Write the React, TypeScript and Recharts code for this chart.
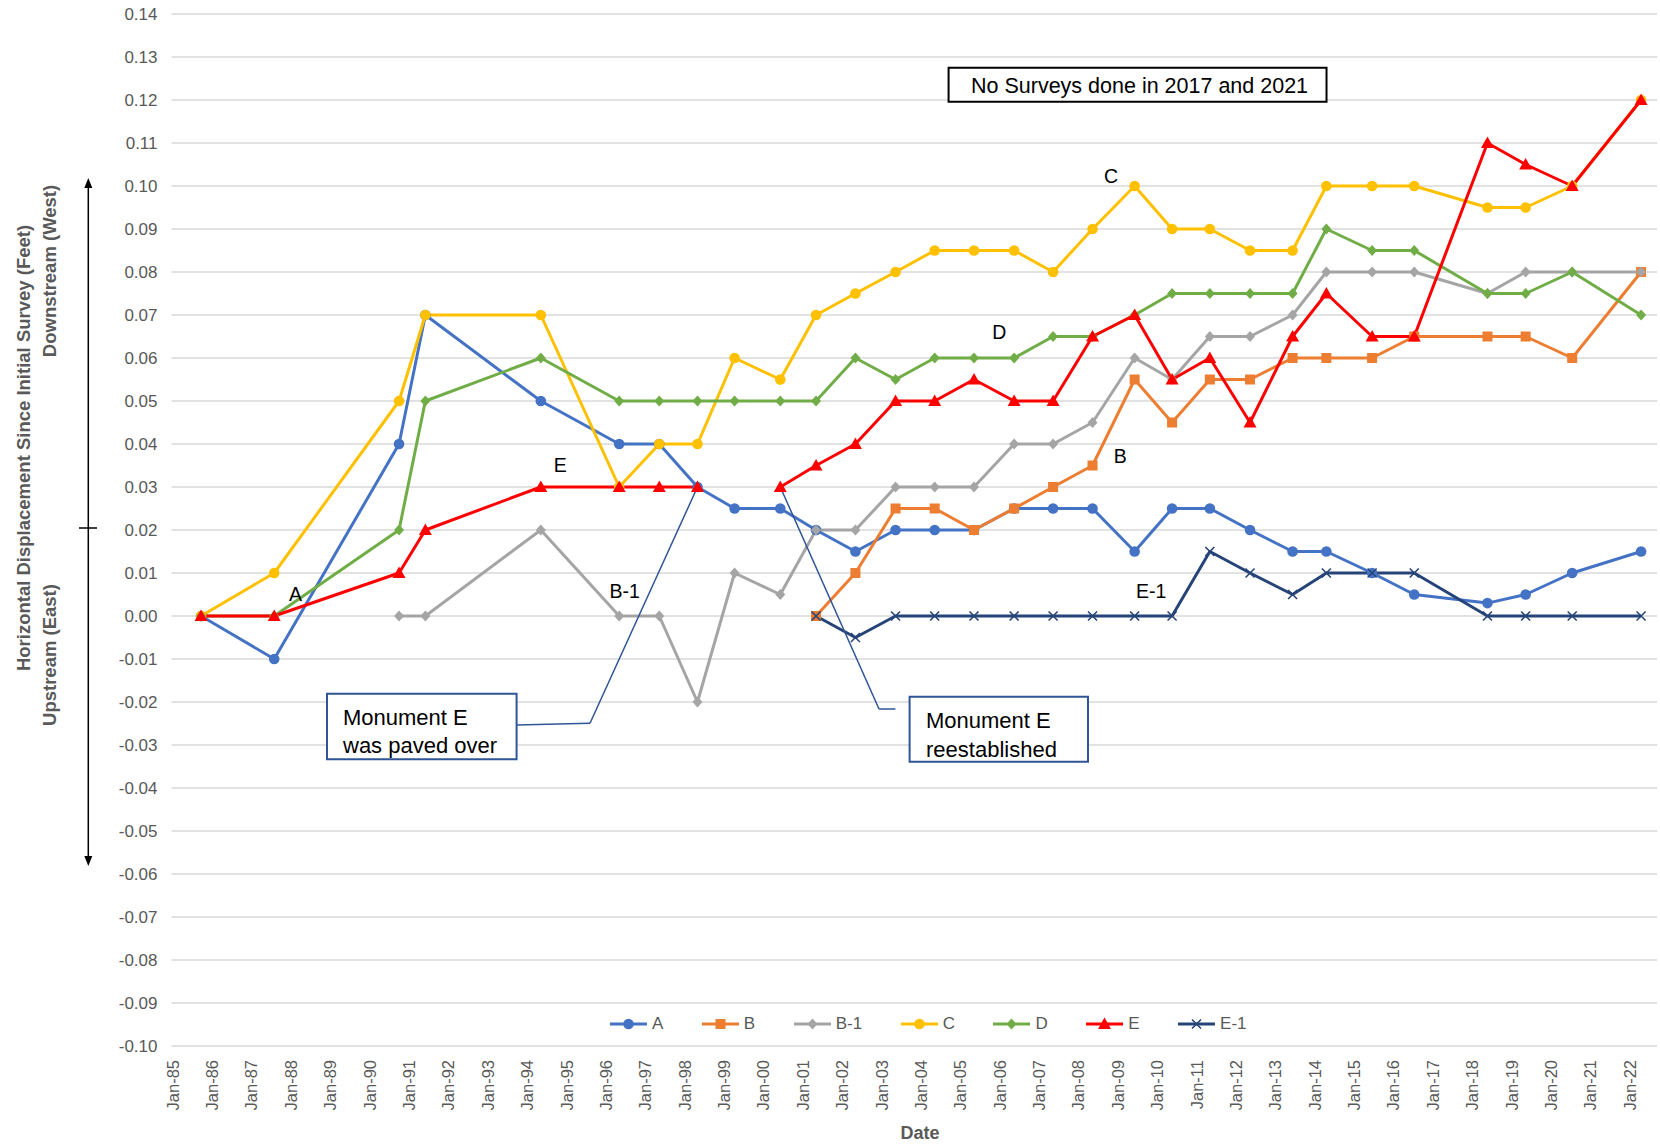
import React from 'react'
import {
  LineChart,
  Line,
  XAxis,
  YAxis,
  CartesianGrid,
  Legend,
  ReferenceArea,
  ReferenceLine,
  ReferenceDot,
} from 'recharts'

// survey dates (one per survey, none in 2017 and 2021)
const surveyDates = [
  '1985-10-02', '1987-08-11', '1990-10-12', '1991-06-13', '1994-05-19',
  '1996-05-15', '1997-05-22', '1998-05-11', '1999-04-20', '2000-06-17',
  '2001-05-15', '2002-05-15', '2003-05-22', '2004-05-19', '2005-05-19',
  '2006-05-26', '2007-05-22', '2008-05-22', '2009-06-17', '2010-05-30',
  '2011-05-15', '2012-05-22', '2013-06-21', '2014-04-30', '2015-06-28',
  '2016-07-23', '2018-06-02', '2019-05-22', '2020-07-27', '2022-04-27',
]

// horizontal displacement in feet, null = no reading
const monA = [0, -0.01, 0.04, 0.07, 0.05, 0.04, 0.04, 0.03, 0.025, 0.025, 0.02, 0.015, 0.02, 0.02, 0.02, 0.025, 0.025, 0.025, 0.015, 0.025, 0.025, 0.02, 0.015, 0.015, 0.01, 0.005, 0.003, 0.005, 0.01, 0.015]
const monB = [null, null, null, null, null, null, null, null, null, null, 0, 0.01, 0.025, 0.025, 0.02, 0.025, 0.03, 0.035, 0.055, 0.045, 0.055, 0.055, 0.06, 0.06, 0.06, 0.065, 0.065, 0.065, 0.06, 0.08]
const monB1 = [null, null, 0, 0, 0.02, 0, 0, -0.02, 0.01, 0.005, 0.02, 0.02, 0.03, 0.03, 0.03, 0.04, 0.04, 0.045, 0.06, 0.055, 0.065, 0.065, 0.07, 0.08, 0.08, 0.08, 0.075, 0.08, 0.08, 0.08]
const monC = [0, 0.01, 0.05, 0.07, 0.07, 0.03, 0.04, 0.04, 0.06, 0.055, 0.07, 0.075, 0.08, 0.085, 0.085, 0.085, 0.08, 0.09, 0.1, 0.09, 0.09, 0.085, 0.085, 0.1, 0.1, 0.1, 0.095, 0.095, 0.1, 0.12]
const monD = [0, 0, 0.02, 0.05, 0.06, 0.05, 0.05, 0.05, 0.05, 0.05, 0.05, 0.06, 0.055, 0.06, 0.06, 0.06, 0.065, 0.065, 0.07, 0.075, 0.075, 0.075, 0.075, 0.09, 0.085, 0.085, 0.075, 0.075, 0.08, 0.07]
const monE = [0, 0, 0.01, 0.02, 0.03, 0.03, 0.03, 0.03, null, 0.03, 0.035, 0.04, 0.05, 0.05, 0.055, 0.05, 0.05, 0.065, 0.07, 0.055, 0.06, 0.045, 0.065, 0.075, 0.065, 0.065, 0.11, 0.105, 0.1, 0.12]
const monE1 = [null, null, null, null, null, null, null, null, null, null, 0, -0.005, 0, 0, 0, 0, 0, 0, 0, 0, 0.015, 0.01, 0.005, 0.01, 0.01, 0.01, 0, 0, 0, 0]

const yearTicks = Array.from({ length: 38 }, (_, i) => 1985 + i)
const valueTicks = Array.from({ length: 25 }, (_, i) => (i - 10) / 100)

type Shape = 'circle' | 'square' | 'diamond' | 'triangle' | 'cross'

const series: { key: string; values: (number | null)[]; color: string; shape: Shape }[] = [
  { key: 'A', values: monA, color: '#4472C4', shape: 'circle' },
  { key: 'B', values: monB, color: '#ED7D31', shape: 'square' },
  { key: 'B-1', values: monB1, color: '#A5A5A5', shape: 'diamond' },
  { key: 'C', values: monC, color: '#FFC000', shape: 'circle' },
  { key: 'D', values: monD, color: '#70AD47', shape: 'diamond' },
  { key: 'E', values: monE, color: '#FF0000', shape: 'triangle' },
  { key: 'E-1', values: monE1, color: '#264478', shape: 'cross' },
]

function toYear(d: string) {
  const [y, m, day] = d.split('-').map(Number)
  const start = Date.UTC(y, 0, 1)
  return y + (Date.UTC(y, m - 1, day) - start) / (Date.UTC(y + 1, 0, 1) - start)
}

const data = surveyDates.map((d, i) => {
  const row: Record<string, number | null> = { t: toYear(d) }
  series.forEach((s) => (row[s.key] = s.values[i]))
  return row
})

// annotation placement (x in years, y in feet)
const tags = [
  { text: 'A', x: 1988.15, y: 0.0052 },
  { text: 'E', x: 1994.87, y: 0.0351 },
  { text: 'B-1', x: 1996.51, y: 0.0058 },
  { text: 'C', x: 2008.86, y: 0.1024 },
  { text: 'D', x: 2006.02, y: 0.066 },
  { text: 'B', x: 2009.09, y: 0.0373 },
  { text: 'E-1', x: 2009.88, y: 0.0059 },
]
const pavedIdx = 7
const reestIdx = 9

const FONT = '"Liberation Sans", Arial, sans-serif'
const GREY = '#595959'
const CALLOUT = '#2F5597'

function Marker({ shape, cx, cy, color }: { shape: Shape; cx: number; cy: number; color: string }) {
  switch (shape) {
    case 'circle':
      return <circle cx={cx} cy={cy} r={5.3} fill={color} />
    case 'square':
      return <rect x={cx - 5} y={cy - 5} width={10} height={10} fill={color} />
    case 'diamond':
      return <polygon points={`${cx},${cy - 5.5} ${cx + 5},${cy} ${cx},${cy + 5.5} ${cx - 5},${cy}`} fill={color} />
    case 'triangle':
      return <polygon points={`${cx},${cy - 6.5} ${cx + 6.5},${cy + 5} ${cx - 6.5},${cy + 5}`} fill={color} />
    default:
      return (
        <path
          d={`M${cx - 4.5},${cy - 4.5}L${cx + 4.5},${cy + 4.5}M${cx - 4.5},${cy + 4.5}L${cx + 4.5},${cy - 4.5}`}
          stroke={color}
          strokeWidth={1.6}
        />
      )
  }
}

const makeDot = (shape: Shape, color: string, key: string) => (p: any) => {
  if (p.cx == null || p.cy == null || p.value == null) return <g key={`${key}-${p.index}`} />
  return (
    <g key={`${key}-${p.index}`}>
      <Marker shape={shape} cx={p.cx} cy={p.cy} color={color} />
    </g>
  )
}

const DateTick = (p: any) => {
  const yr = p.payload.value as number
  return (
    <text
      x={p.x + 1.2}
      y={p.y}
      transform={`rotate(-90 ${p.x + 1.2} ${p.y})`}
      textAnchor="end"
      dominantBaseline="central"
      fill={GREY}
      fontSize={16.5}
    >
      {`Jan-${String(yr % 100).padStart(2, '0')}`}
    </text>
  )
}

const boxText = (lines: string[], size: number, dx: number, base: number, gap: number) => (p: any) => {
  const vb = p.viewBox ?? p
  return (
    <text fontSize={size} fill="#000">
      {lines.map((l, i) => (
        <tspan key={i} x={vb.x + dx} y={vb.y + base + i * gap}>
          {l}
        </tspan>
      ))}
    </text>
  )
}

const tagText = (text: string) => (p: any) => {
  const vb = p.viewBox ?? p
  return (
    <text
      x={vb.x + (vb.width || 0) / 2}
      y={vb.y + (vb.height || 0) / 2}
      textAnchor="middle"
      dominantBaseline="central"
      fontSize={19.5}
      fill="#000"
    >
      {text}
    </text>
  )
}

function LegendRow(props: any) {
  const items = (props.payload || []) as any[]
  return (
    <div style={{ display: 'flex', alignItems: 'center', height: 20, fontFamily: FONT }}>
      {items.map((it) => {
        const s = series.find((x) => x.key === it.value)!
        return (
          <div key={s.key} style={{ display: 'flex', alignItems: 'center', marginRight: 38.5 }}>
            <svg width={37} height={16}>
              <line x1={0} x2={37} y1={8} y2={8} stroke={s.color} strokeWidth={3} />
              <Marker shape={s.shape} cx={18.5} cy={8} color={s.color} />
            </svg>
            <span style={{ marginLeft: 5, fontSize: 17, color: GREY, lineHeight: '20px' }}>{s.key}</span>
          </div>
        )
      })}
    </div>
  )
}

export default function App() {
  const ePaved = { x: data[pavedIdx].t as number, y: monE[pavedIdx] as number }
  const eReest = { x: data[reestIdx].t as number, y: monE[reestIdx] as number }

  return (
    <div style={{ position: 'absolute', left: 0, top: 0, width: 1660, height: 1145, fontFamily: FONT, background: '#fff' }}>
      <LineChart width={1660} height={1145} data={data} margin={{ top: 14, right: 3, left: 0, bottom: 0 }}>
        <CartesianGrid vertical={false} stroke="#D9D9D9" strokeWidth={1.5} />
        <XAxis
          dataKey="t"
          type="number"
          domain={[1985, 2022.722]}
          ticks={yearTicks}
          interval={0}
          height={99}
          axisLine={false}
          tickLine={false}
          tickSize={0}
          tickMargin={14}
          tick={<DateTick />}
          allowDataOverflow
        />
        <YAxis
          type="number"
          domain={[-0.1, 0.14]}
          ticks={valueTicks}
          interval={0}
          width={171.5}
          axisLine={false}
          tickLine={false}
          tickSize={0}
          tickMargin={14}
          tickFormatter={(v: number) => v.toFixed(2)}
          tick={{ fill: GREY, fontSize: 17 }}
          allowDataOverflow
        />
        {series.map((s) => (
          <Line
            key={s.key}
            name={s.key}
            dataKey={s.key}
            type="linear"
            stroke={s.color}
            strokeWidth={3}
            strokeLinejoin="round"
            dot={makeDot(s.shape, s.color, s.key)}
            activeDot={false}
            connectNulls={false}
            isAnimationActive={false}
          />
        ))}
        <Legend
          layout="horizontal"
          verticalAlign="middle"
          align="center"
          content={<LegendRow />}
          wrapperStyle={{ left: 610, top: 1014, width: 720 }}
        />

        <ReferenceArea
          x1={2004.733}
          x2={2014.33}
          y1={0.1275}
          y2={0.1196}
          fill="#fff"
          fillOpacity={1}
          stroke="#000"
          strokeWidth={2}
          ifOverflow="visible"
          label={boxText(['No Surveys done in 2017 and 2021'], 21.5, 22.4, 25.5, 0)}
        />

        <ReferenceLine segment={[{ x: 1993.763, y: -0.02535 }, { x: 1995.627, y: -0.02495 }]} stroke={CALLOUT} strokeWidth={1.5} ifOverflow="visible" />
        <ReferenceLine segment={[{ x: 1995.627, y: -0.02495 }, ePaved]} stroke={CALLOUT} strokeWidth={1.5} ifOverflow="visible" />
        <ReferenceArea
          x1={1988.949}
          x2={1993.763}
          y1={-0.0181}
          y2={-0.0333}
          fill="#fff"
          fillOpacity={1}
          stroke={CALLOUT}
          strokeWidth={2}
          ifOverflow="visible"
          label={boxText(['Monument E', 'was paved over'], 22, 16, 31, 28)}
        />

        <ReferenceLine segment={[{ x: 2003.383, y: -0.02163 }, { x: 2002.966, y: -0.02163 }]} stroke={CALLOUT} strokeWidth={1.5} ifOverflow="visible" />
        <ReferenceLine segment={[{ x: 2002.966, y: -0.02163 }, eReest]} stroke={CALLOUT} strokeWidth={1.5} ifOverflow="visible" />
        <ReferenceArea
          x1={2003.743}
          x2={2008.273}
          y1={-0.0188}
          y2={-0.0339}
          fill="#fff"
          fillOpacity={1}
          stroke={CALLOUT}
          strokeWidth={2}
          ifOverflow="visible"
          label={boxText(['Monument E', 'reestablished'], 22, 16.4, 31.3, 29)}
        />

        {tags.map((t) => (
          <ReferenceDot key={t.text} x={t.x} y={t.y} r={0} fill="none" stroke="none" ifOverflow="visible" label={tagText(t.text)} />
        ))}
      </LineChart>

      <svg width={1660} height={1145} style={{ position: 'absolute', left: 0, top: 0, pointerEvents: 'none' }}>
        <g fill={GREY} fontWeight="bold" fontSize={18.5} textAnchor="middle" dominantBaseline="central">
          <text x={23} y={448} transform="rotate(-90 23 448)">
            Horizontal Displacement Since Initial Survey (Feet)
          </text>
          <text x={49} y={271} transform="rotate(-90 49 271)">
            Downstream (West)
          </text>
          <text x={49} y={655} transform="rotate(-90 49 655)">
            Upstream (East)
          </text>
          <text x={920} y={1133} fontSize={18}>
            Date
          </text>
        </g>
        <line x1={88.3} x2={88.3} y1={186} y2={858} stroke="#000" strokeWidth={1.5} />
        <polygon points="88.3,178 84.3,188 92.3,188" fill="#000" />
        <polygon points="88.3,866 84.3,856 92.3,856" fill="#000" />
        <line x1={79} x2={97} y1={528} y2={528} stroke="#000" strokeWidth={1.5} />
      </svg>
    </div>
  )
}
